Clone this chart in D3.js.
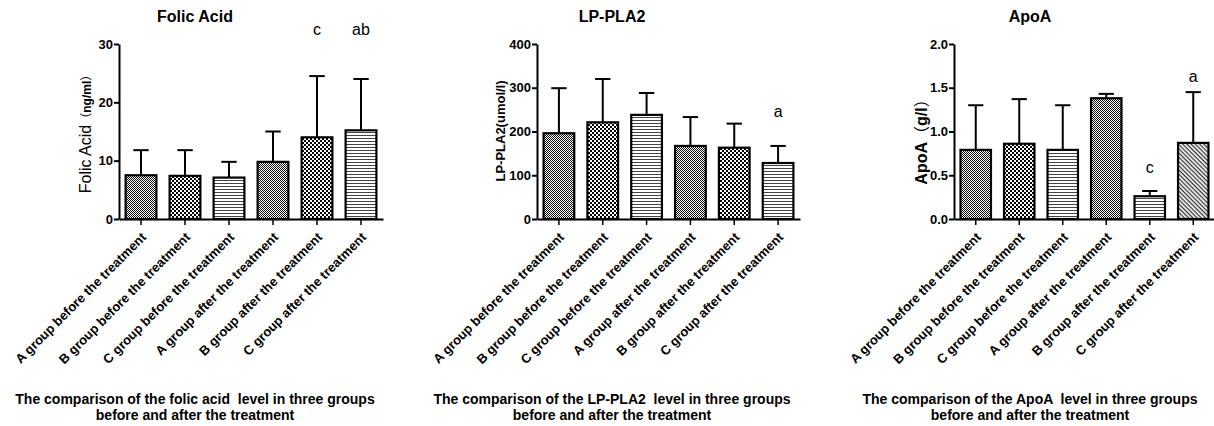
<!DOCTYPE html>
<html>
<head>
<meta charset="utf-8">
<script src="https://cdn.jsdelivr.net/npm/d3@7"></script>
<style>
  body { margin: 0; background: #fff; }
  svg { display: block; font-family: "Liberation Sans", Arial, sans-serif; }
  text { white-space: pre; }
</style>
</head>
<body>
<svg width="1214" height="426"></svg>
<script>
const categories = [
  "A group before the treatment",
  "B group before the treatment",
  "C group before the treatment",
  "A group after the treatment",
  "B group after the treatment",
  "C group after the treatment"
];

// Folic acid (ng/ml): mean and upper SD
const folicMean = [7.5, 7.4, 7.1, 9.8, 14.0, 15.2];
const folicSD = [4.3, 4.4, 2.7, 5.2, 10.5, 8.8];
const folicTicks = [0, 10, 20, 30];
const folicMarks = [{ i: 4, text: "c", at: 31.5 }, { i: 5, text: "ab", at: 31.5 }];

// LP-PLA2 (umol/l)
const lpMean = [196, 221, 238, 167, 163, 128];
const lpSD = [103, 99, 50, 66, 55, 39];
const lpTicks = [0, 100, 200, 300, 400];
const lpMarks = [{ i: 5, text: "a", at: 233 }];

// ApoA (g/l)
const apoMean = [0.79, 0.86, 0.79, 1.38, 0.26, 0.87];
const apoSD = [0.51, 0.51, 0.51, 0.05, 0.06, 0.58];
const apoTicks = [0, 0.5, 1.0, 1.5, 2.0];
const apoMarks = [{ i: 4, text: "c", at: 0.53 }, { i: 5, text: "a", at: 1.57 }];

const svg = d3.select("svg");
const cjk = "'Noto Sans CJK SC', sans-serif";

// fill patterns
const defs = svg.append("defs");
const fine = defs.append("pattern").attr("id", "fine")
  .attr("patternUnits", "userSpaceOnUse").attr("width", 2).attr("height", 2);
fine.append("rect").attr("width", 2).attr("height", 2).attr("fill", "#fff");
fine.append("rect").attr("width", 1).attr("height", 1).attr("fill", "#111");
fine.append("rect").attr("x", 1).attr("y", 1).attr("width", 1).attr("height", 1).attr("fill", "#111");

const coarse = defs.append("pattern").attr("id", "coarse")
  .attr("patternUnits", "userSpaceOnUse").attr("width", 4).attr("height", 4);
coarse.append("rect").attr("width", 4).attr("height", 4).attr("fill", "#fff");
coarse.append("rect").attr("width", 2).attr("height", 2).attr("fill", "#000");
coarse.append("rect").attr("x", 2).attr("y", 2).attr("width", 2).attr("height", 2).attr("fill", "#000");

const hlines = defs.append("pattern").attr("id", "hlines")
  .attr("patternUnits", "userSpaceOnUse").attr("width", 4).attr("height", 3);
hlines.append("rect").attr("width", 4).attr("height", 3).attr("fill", "#fff");
hlines.append("rect").attr("width", 4).attr("height", 1).attr("fill", "#444");

const diag = defs.append("pattern").attr("id", "diag")
  .attr("patternUnits", "userSpaceOnUse").attr("width", 3).attr("height", 3)
  .attr("patternTransform", "rotate(45)");
diag.append("rect").attr("width", 3).attr("height", 3).attr("fill", "#fff");
diag.append("rect").attr("width", 3).attr("height", 1.3).attr("fill", "#333");

const panels = [
  {
    title: "Folic Acid", mean: folicMean, sd: folicSD, ticks: folicTicks, fmt: d3.format("d"),
    marks: folicMarks, x0: 119, x1: 383, cx: 195,
    fills: ["fine", "coarse", "hlines", "fine", "coarse", "hlines"],
    ylab: [
      { t: "Folic Acid", size: 16, weight: "normal" },
      { t: "（", size: 12, weight: "normal", font: cjk },
      { t: "ng/ml", size: 12, weight: "bold" },
      { t: "）", size: 12, weight: "normal", font: cjk }
    ],
    ylx: 91, yly: 131,
    caption: ["The comparison of the folic acid  level in three groups", "before and after the treatment"]
  },
  {
    title: "LP-PLA2", mean: lpMean, sd: lpSD, ticks: lpTicks, fmt: d3.format("d"),
    marks: lpMarks, x0: 537, x1: 800, cx: 612,
    fills: ["fine", "coarse", "hlines", "fine", "coarse", "hlines"],
    ylab: [{ t: "LP-PLA2(umol/l)", size: 13, weight: "bold" }],
    ylx: 505, yly: 131,
    caption: ["The comparison of the LP-PLA2  level in three groups", "before and after the treatment"]
  },
  {
    title: "ApoA", mean: apoMean, sd: apoSD, ticks: apoTicks, fmt: d3.format(".1f"),
    marks: apoMarks, x0: 954, x1: 1215, cx: 1030,
    fills: ["fine", "coarse", "hlines", "fine", "hlines", "diag"],
    ylab: [
      { t: "ApoA", size: 16, weight: "bold" },
      { t: "（", size: 16, weight: "normal", font: cjk },
      { t: "g/l", size: 16, weight: "bold" },
      { t: "）", size: 16, weight: "normal", font: cjk }
    ],
    ylx: 927, yly: 138,
    caption: ["The comparison of the ApoA  level in three groups", "before and after the treatment"]
  }
];

const yTop = 44, yBottom = 219;

panels.forEach(p => {
  const g = svg.append("g");
  const x = d3.scaleBand().domain(categories).range([p.x0, p.x1])
    .paddingInner(0.3).paddingOuter(0.15);
  const y = d3.scaleLinear().domain([0, d3.max(p.ticks)]).range([yBottom, yTop]);

  // title
  g.append("text").attr("x", p.cx).attr("y", 22).attr("text-anchor", "middle")
    .attr("font-size", 16).attr("font-weight", "bold").text(p.title);

  // bars
  g.selectAll("rect.bar").data(p.mean).enter().append("rect")
    .attr("class", "bar")
    .attr("x", (d, i) => x(categories[i]))
    .attr("y", d => y(d))
    .attr("width", x.bandwidth())
    .attr("height", d => yBottom - y(d))
    .attr("fill", (d, i) => `url(#${p.fills[i]})`)
    .attr("stroke", "#000").attr("stroke-width", 2.2);

  // error bars (upper only)
  const capW = x.bandwidth() * 0.5;
  p.mean.forEach((m, i) => {
    const cx = x(categories[i]) + x.bandwidth() / 2;
    g.append("line").attr("x1", cx).attr("x2", cx)
      .attr("y1", y(m)).attr("y2", y(m + p.sd[i]))
      .attr("stroke", "#000").attr("stroke-width", 2);
    g.append("line").attr("x1", cx - capW / 2).attr("x2", cx + capW / 2)
      .attr("y1", y(m + p.sd[i])).attr("y2", y(m + p.sd[i]))
      .attr("stroke", "#000").attr("stroke-width", 2);
  });

  // significance letters
  p.marks.forEach(mk => {
    g.append("text")
      .attr("x", x(categories[mk.i]) + x.bandwidth() / 2)
      .attr("y", y(mk.at))
      .attr("text-anchor", "middle").attr("font-size", 16)
      .text(mk.text);
  });

  // y axis
  const ya = g.append("g").attr("transform", `translate(${p.x0},0)`)
    .call(d3.axisLeft(y).tickValues(p.ticks).tickFormat(p.fmt).tickSize(5).tickSizeOuter(0).tickPadding(1));
  ya.select(".domain").attr("stroke-width", 2);
  ya.selectAll(".tick line").attr("stroke-width", 2);
  ya.selectAll(".tick text").attr("font-size", 13).attr("font-weight", "bold")
    .attr("font-family", "Liberation Sans, Arial, sans-serif").attr("fill", "#000");

  // x axis
  const xa = g.append("g").attr("transform", `translate(0,${yBottom})`)
    .call(d3.axisBottom(x).tickSize(6).tickSizeOuter(0).tickFormat(""));
  xa.select(".domain").attr("stroke-width", 2);
  xa.selectAll(".tick line").attr("stroke-width", 1.5);

  // rotated category labels
  g.selectAll("text.cat").data(categories).enter().append("text")
    .attr("class", "cat")
    .attr("transform", d => `translate(${x(d) + x.bandwidth() / 2 + 6},${yBottom + 19}) rotate(-45)`)
    .attr("text-anchor", "end")
    .attr("font-size", 13).attr("font-weight", "bold")
    .text(d => d);

  // y label
  const yl = g.append("text")
    .attr("transform", `translate(${p.ylx},${p.yly}) rotate(-90)`)
    .attr("text-anchor", "middle");
  p.ylab.forEach(s => {
    const ts = yl.append("tspan").attr("font-size", s.size).attr("font-weight", s.weight).text(s.t);
    if (s.font) ts.attr("font-family", s.font);
  });

  // caption
  p.caption.forEach((line, k) => {
    g.append("text").attr("x", p.cx).attr("y", 404 + k * 16)
      .attr("text-anchor", "middle").attr("font-size", 14).attr("font-weight", "bold")
      .text(line);
  });
});
</script>
</body>
</html>
